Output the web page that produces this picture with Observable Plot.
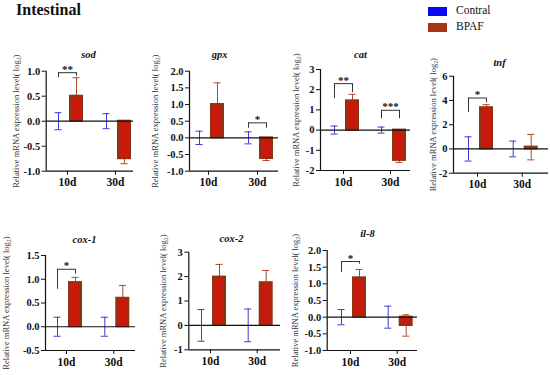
<!DOCTYPE html>
<html>
<head>
<meta charset="utf-8">
<script src="https://cdn.jsdelivr.net/npm/d3@7"></script>
<script src="https://cdn.jsdelivr.net/npm/@observablehq/plot@0.6"></script>
<style>
  html, body { margin: 0; padding: 0; background: white; }
  #root { position: relative; width: 550px; height: 375px; overflow: hidden; font-family: 'Liberation Serif', 'Times New Roman', serif; }
  #root svg, #root svg text { font-family: 'Liberation Serif', 'Times New Roman', serif !important; }
  .main-title { position: absolute; left: 16px; top: 1px; font-size: 16px; font-weight: bold; color: #111; }
  .leg { position: absolute; left: 428px; font-size: 11.5px; color: #111; }
  .sw { position: absolute; width: 19px; height: 9px; }
</style>
</head>
<body>
<div id="root">
  <div class="main-title">Intestinal</div>
  <div class="sw" style="left:428px; top:7px; background:#0a0af0;"></div>
  <div class="leg" style="left:456px; top:4px;">Contral</div>
  <div class="sw" style="left:428px; top:23px; background:#a63318;"></div>
  <div class="leg" style="left:456px; top:20px;">BPAF</div>
</div>
<script>
// ---- data ----
const days = ["10d", "30d"];
const genes = ["sod", "gpx", "cat", "tnf", "cox-1", "cox-2", "il-8"];
const controlMean = [[0, 0], [0, 0], [0, 0], [0, 0], [0, 0], [0, 0], [0, 0]];
const controlSD = [[0.17, 0.15], [0.2, 0.18], [0.2, 0.15], [1.0, 0.65], [0.2, 0.2], [0.65, 0.67], [0.23, 0.33]];
const bpafMean = [[0.5, -0.75], [1.0, -0.62], [1.45, -1.5], [3.4, 0.15], [0.93, 0.6], [1.98, 1.75], [1.18, -0.25]];
const bpafSD = [[0.37, 0.1], [0.65, 0.06], [0.32, 0.1], [0.25, 1.05], [0.11, 0.27], [0.52, 0.5], [0.25, 0.32]];
const yDomains = [[-1, 1], [-1, 2], [-2, 3], [-2, 6], [-0.5, 1.5], [-1, 3], [-1, 2]];
const yTicks = [
  [-1, -0.5, 0, 0.5, 1],
  [-1, -0.5, 0, 0.5, 1, 1.5, 2],
  [-2, -1, 0, 1, 2, 3],
  [-2, 0, 2, 4, 6],
  [-0.5, 0, 0.5, 1, 1.5],
  [-1, 0, 1, 2, 3],
  [-1, -0.5, 0, 0.5, 1, 1.5, 2]
];
const yDecimals = [1, 1, 0, 0, 1, 0, 1];
// significance brackets: gene index, day index, bracket top, control leg end, BPAF leg end, label
const sigGene = [0, 1, 2, 2, 3, 4, 6];
const sigDay = [0, 1, 0, 1, 0, 0, 0];
const sigTop = [0.97, 0.45, 2.3, 0.98, 4.2, 1.21, 1.67];
const sigLegC = [0.87, 0.29, 1.55, 0.56, 3.0, 0.79, 1.34];
const sigLegB = [0.9, 0.29, 1.85, 0.56, 3.8, 1.11, 1.59];
const sigLabel = ["**", "*", "**", "***", "*", "*", "*"];
const yLabel = "Relative mRNA expression level( log\u2082)";

// ---- layout (pixels) ----
const layout = [
  {axisX: 45.7, t0: 67, t1: 115, right: 133, top: 70.7, bottom: 170.7, titleX: 88, titleY: 54, labelX: 16},
  {axisX: 189, t0: 208, t1: 257, right: 278, top: 70.7, bottom: 170.7, titleX: 219, titleY: 54, labelX: 155},
  {axisX: 320, t0: 343, t1: 390, right: 410, top: 69, bottom: 170, titleX: 360, titleY: 54, labelX: 296},
  {axisX: 453, t0: 477, t1: 521.7, right: 548, top: 75.7, bottom: 172.7, titleX: 499, titleY: 62, labelX: 433},
  {axisX: 45, t0: 66, t1: 113.3, right: 135, top: 255, bottom: 350, titleX: 84, titleY: 239, labelX: 6},
  {axisX: 188.3, t0: 210, t1: 256.7, right: 280, top: 251.7, bottom: 349.3, titleX: 231, titleY: 238, labelX: 163},
  {axisX: 326.7, t0: 350, t1: 396.7, right: 417, top: 250, bottom: 350, titleX: 367, titleY: 233, labelX: 295}
];

const CTRL_ERR = "#3b3bd0";
const BPAF_ERR = "#b5472a";
const BAR_FILL = "#c81a0c";
const BAR_STROKE = "#8a3512";
const font = "Liberation Serif";

const root = document.getElementById("root");

genes.forEach((gene, gi) => {
  const L = layout[gi];
  const s = L.t1 - L.t0;                 // px per x unit
  const off = 9 / s, half = 6 / s, cap = 3.5 / s;
  const xDomain = [(L.axisX - L.t0) / s, (L.right - L.t0) / s];
  const yDomain = yDomains[gi];

  const ctrl = days.map((d, di) => ({x: di - off, m: controlMean[gi][di], sd: controlSD[gi][di]}));
  const bpaf = days.map((d, di) => ({x: di + off, m: bpafMean[gi][di], sd: bpafSD[gi][di]}));

  const sig = [];
  sigGene.forEach((g, k) => {
    if (g === gi) sig.push({xc: sigDay[k] - off, xb: sigDay[k] + off, top: sigTop[k], lc: sigLegC[k], lb: sigLegB[k], label: sigLabel[k]});
  });

  const errMarks = (data, color) => [
    Plot.ruleX(data, {x: "x", y1: d => d.m - d.sd, y2: d => d.m + d.sd, stroke: color, strokeWidth: 1}),
    Plot.ruleY(data, {y: d => d.m + d.sd, x1: d => d.x - cap, x2: d => d.x + cap, stroke: color, strokeWidth: 1}),
    Plot.ruleY(data, {y: d => d.m - d.sd, x1: d => d.x - cap, x2: d => d.x + cap, stroke: color, strokeWidth: 1})
  ];

  const chart = Plot.plot({
    width: 550,
    height: 375,
    marginLeft: L.axisX,
    marginRight: 550 - L.right,
    marginTop: L.top,
    marginBottom: 375 - L.bottom,
    style: `background: transparent; font-family: 'Liberation Serif', serif; font-size: 10px; color: black; position: absolute; left: 0px; top: 0px; overflow: visible;`,
    x: {domain: xDomain},
    y: {domain: yDomain},
    marks: [
      ...errMarks(ctrl, CTRL_ERR),
      ...errMarks(bpaf, BPAF_ERR),
      Plot.rect(bpaf, {x1: d => d.x - half, x2: d => d.x + half, y1: 0, y2: "m", fill: BAR_FILL, stroke: BAR_STROKE, strokeWidth: 2}),
      Plot.ruleY([0], {stroke: "#111", strokeWidth: 1.2}),
      // significance brackets
      Plot.ruleY(sig, {y: "top", x1: "xc", x2: "xb", stroke: "#333", strokeWidth: 1}),
      Plot.ruleX(sig, {x: "xc", y1: "lc", y2: "top", stroke: "#333", strokeWidth: 1}),
      Plot.ruleX(sig, {x: "xb", y1: "lb", y2: "top", stroke: "#333", strokeWidth: 1}),
      Plot.text(sig, {x: d => (d.xc + d.xb) / 2, y: "top", text: "label", lineAnchor: "bottom", dy: 0, fontFamily: font, fontSize: 11, fontWeight: "bold", fill: "#111"}),
      // axes
      Plot.axisY({ticks: yTicks[gi], tickFormat: v => v.toFixed(yDecimals[gi]), tickSize: 4, tickPadding: 2, label: null, fontFamily: font, fontSize: 10.5, fontWeight: "bold", stroke: "#111", fill: "#111"}),
      Plot.axisX({ticks: [0, 1], tickFormat: i => days[i], tickSize: 4, tickPadding: 3, label: null, fontFamily: font, fontSize: 11.5, fontWeight: "bold", stroke: "#111", fill: "#111"}),
      Plot.ruleX([xDomain[0]], {stroke: "#111", strokeWidth: 1.2}),
      Plot.ruleY([yDomain[0]], {stroke: "#111", strokeWidth: 1.2}),
      // gene title
      Plot.text([gene], {frameAnchor: "top-left", dx: L.titleX - L.axisX, dy: L.titleY - L.top, textAnchor: "middle", lineAnchor: "middle", fontFamily: font, fontStyle: "italic", fontWeight: "bold", fontSize: 10.5, fill: "#111"}),
      // y label
      Plot.text([yLabel], {frameAnchor: "left", dx: L.labelX - L.axisX, rotate: -90, textAnchor: "middle", lineAnchor: "middle", fontFamily: font, fontWeight: "normal", fontSize: 8.5, fill: "#333"})
    ]
  });
  root.appendChild(chart);
});
</script>
</body>
</html>
